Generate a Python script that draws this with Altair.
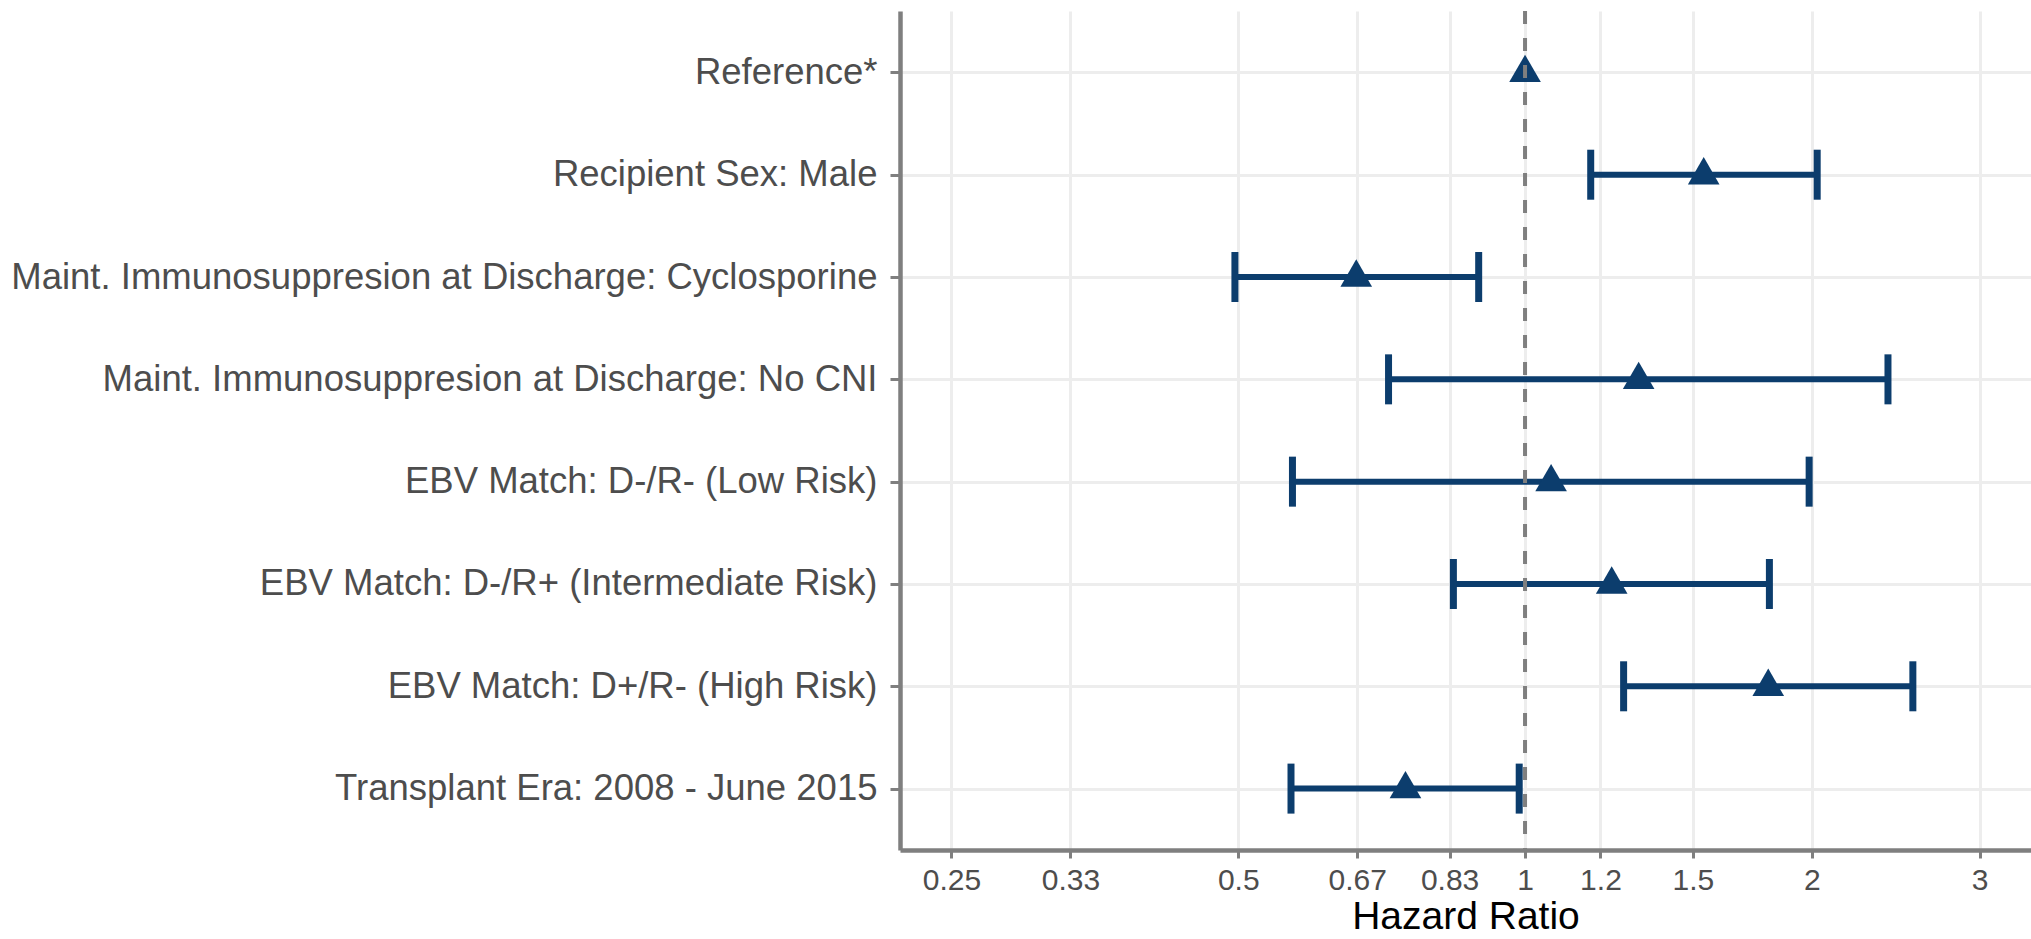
import altair as alt
import pandas as pd
import math

# ---- data ----
labels = [
    "Reference*",
    "Recipient Sex: Male",
    "Maint. Immunosuppresion at Discharge: Cyclosporine",
    "Maint. Immunosuppresion at Discharge: No CNI",
    "EBV Match: D-/R- (Low Risk)",
    "EBV Match: D-/R+ (Intermediate Risk)",
    "EBV Match: D+/R- (High Risk)",
    "Transplant Era: 2008 - June 2015",
]
hr = [1.0, 1.54, 0.665, 1.316, 1.065, 1.233, 1.80, 0.749]
lower = [None, 1.172, 0.496, 0.719, 0.570, 0.841, 1.269, 0.568]
upper = [None, 2.026, 0.894, 2.404, 1.987, 1.805, 2.553, 0.986]

tick_values = [0.25, 1 / 3, 0.5, 2 / 3, 5 / 6, 1, 1.2, 1.5, 2, 3]
x_domain = [math.exp(-1.5106), math.exp(1.2228)]

BLUE = "#0c3d6d"
GRAY = "#7f7f7f"
FONT = "Liberation Sans"

pts = pd.DataFrame({"label": labels, "hr": hr})
ci = pd.DataFrame({"label": labels, "lower": lower, "upper": upper}).dropna()
ref = pd.DataFrame({"x": [1.0]})

yscale = alt.Scale(type="point", padding=0.6, domain=labels)
xscale = alt.Scale(type="log", domain=x_domain, nice=False, zero=False)

y_enc = alt.Y(
    "label:N",
    scale=yscale,
    sort=labels,
    axis=alt.Axis(
        title=None,
        labelFontSize=36.5,
        labelColor="#4d4d4d",
        labelFont=FONT,
        labelPadding=13,
        tickSize=10,
        tickWidth=3,
        tickColor=GRAY,
        domainColor=GRAY,
        domainWidth=4.5,
        grid=True,
        gridColor="#ededed",
        gridWidth=3,
        labelLimit=2000,
    ),
)

x_axis = alt.Axis(
    values=tick_values,
    format=".2~f",
    title="Hazard Ratio",
    titleFontSize=39,
    titleFont=FONT,
    titleFontWeight="normal",
    titleColor="#000000",
    titlePadding=2,
    labelFontSize=30,
    labelFont=FONT,
    labelColor="#4d4d4d",
    labelPadding=7,
    tickSize=8,
    tickWidth=3,
    tickColor=GRAY,
    domainColor=GRAY,
    domainWidth=4.5,
    grid=True,
    gridColor="#ededed",
    gridWidth=3,
    labelFlush=False,
)

bars = alt.Chart(ci).mark_rule(color=BLUE, strokeWidth=6).encode(
    x=alt.X("lower:Q", scale=xscale, axis=x_axis),
    x2="upper:Q",
    y=y_enc,
)
cap_lo = alt.Chart(ci).mark_tick(color=BLUE, thickness=7, size=50, opacity=1).encode(
    x=alt.X("lower:Q", scale=xscale), y=alt.Y("label:N", scale=yscale, sort=labels)
)
cap_hi = alt.Chart(ci).mark_tick(color=BLUE, thickness=7, size=50, opacity=1).encode(
    x=alt.X("upper:Q", scale=xscale), y=alt.Y("label:N", scale=yscale, sort=labels)
)
points = alt.Chart(pts).mark_point(
    shape="triangle-up", filled=True, size=1000, color=BLUE, opacity=1, yOffset=-4
).encode(
    x=alt.X("hr:Q", scale=xscale), y=alt.Y("label:N", scale=yscale, sort=labels)
)
vline = alt.Chart(ref).mark_rule(color=GRAY, strokeWidth=4, strokeDash=[13, 14]).encode(
    x=alt.X("x:Q", scale=xscale)
)

chart = (
    alt.layer(bars, cap_lo, cap_hi, points, vline)
    .properties(
        width=1131,
        height=839,
        autosize=alt.AutoSizeParams(type="none"),
        padding={"left": 900, "top": 11, "right": 0, "bottom": 89},
        background="white",
    )
    .configure_view(stroke=None)
)

chart.save("out.html", embed_options={"renderer": "svg", "actions": False})
